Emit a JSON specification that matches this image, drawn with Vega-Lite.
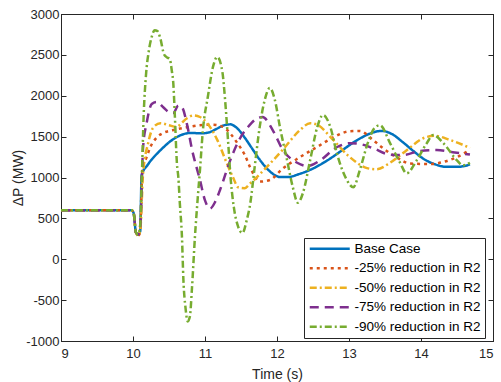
{
  "$schema": "https://vega.github.io/schema/vega-lite/v6.json",
  "width": 432,
  "height": 327,
  "autosize": {"type": "none"},
  "padding": {"left": 61, "top": 14, "right": 8, "bottom": 41},
  "background": "white",
  "config": {
    "font": "Liberation Sans",
    "view": {"stroke": "#262626", "strokeWidth": 1},
    "axis": {
      "grid": false,
      "domainColor": "#262626",
      "tickColor": "#262626",
      "labelColor": "#262626",
      "titleColor": "#262626",
      "labelFont": "Liberation Sans",
      "titleFont": "Liberation Sans",
      "labelFontSize": 13,
      "titleFontSize": 14,
      "titleFontWeight": "normal",
      "tickSize": -5,
      "labelPadding": 8
    },
    "legend": {
      "title": null,
      "orient": "none",
      "legendX": 243,
      "legendY": 224,
      "symbolType": "M-1,0H7",
      "symbolSize": 100,
      "symbolStrokeWidth": 2.5,
      "labelFont": "Liberation Sans",
      "labelFontSize": 13.5,
      "labelColor": "#000000",
      "labelOffset": 33,
      "rowPadding": 4.5,
      "padding": 4,
      "strokeColor": "#262626",
      "fillColor": "white",
      "labelLimit": 200
    }
  },
  "data": {
    "values": [
      {"s": "Base Case", "t": 9, "v": 600},
      {"s": "Base Case", "t": 9.98, "v": 600},
      {"s": "Base Case", "t": 10.01, "v": 560},
      {"s": "Base Case", "t": 10.04, "v": 330},
      {"s": "Base Case", "t": 10.07, "v": 300},
      {"s": "Base Case", "t": 10.1, "v": 340},
      {"s": "Base Case", "t": 10.12, "v": 1030},
      {"s": "Base Case", "t": 10.2, "v": 1150},
      {"s": "Base Case", "t": 10.3, "v": 1260},
      {"s": "Base Case", "t": 10.4, "v": 1350},
      {"s": "Base Case", "t": 10.5, "v": 1430},
      {"s": "Base Case", "t": 10.6, "v": 1490},
      {"s": "Base Case", "t": 10.7, "v": 1530},
      {"s": "Base Case", "t": 10.8, "v": 1545},
      {"s": "Base Case", "t": 10.95, "v": 1540},
      {"s": "Base Case", "t": 11.05, "v": 1550},
      {"s": "Base Case", "t": 11.15, "v": 1590},
      {"s": "Base Case", "t": 11.25, "v": 1635},
      {"s": "Base Case", "t": 11.35, "v": 1650},
      {"s": "Base Case", "t": 11.45, "v": 1600},
      {"s": "Base Case", "t": 11.55, "v": 1490},
      {"s": "Base Case", "t": 11.65, "v": 1360},
      {"s": "Base Case", "t": 11.75, "v": 1230},
      {"s": "Base Case", "t": 11.85, "v": 1120},
      {"s": "Base Case", "t": 11.95, "v": 1040},
      {"s": "Base Case", "t": 12.05, "v": 1005},
      {"s": "Base Case", "t": 12.15, "v": 1005},
      {"s": "Base Case", "t": 12.3, "v": 1040},
      {"s": "Base Case", "t": 12.5, "v": 1110},
      {"s": "Base Case", "t": 12.7, "v": 1210},
      {"s": "Base Case", "t": 12.9, "v": 1330},
      {"s": "Base Case", "t": 13.1, "v": 1450},
      {"s": "Base Case", "t": 13.3, "v": 1540},
      {"s": "Base Case", "t": 13.45, "v": 1570},
      {"s": "Base Case", "t": 13.6, "v": 1530},
      {"s": "Base Case", "t": 13.75, "v": 1430},
      {"s": "Base Case", "t": 13.9, "v": 1320},
      {"s": "Base Case", "t": 14.05, "v": 1220},
      {"s": "Base Case", "t": 14.2, "v": 1160},
      {"s": "Base Case", "t": 14.35, "v": 1130},
      {"s": "Base Case", "t": 14.5, "v": 1130},
      {"s": "Base Case", "t": 14.6, "v": 1140},
      {"s": "Base Case", "t": 14.68, "v": 1160},

      {"s": "-25% reduction in R2", "t": 9, "v": 600},
      {"s": "-25% reduction in R2", "t": 9.98, "v": 600},
      {"s": "-25% reduction in R2", "t": 10.01, "v": 560},
      {"s": "-25% reduction in R2", "t": 10.04, "v": 330},
      {"s": "-25% reduction in R2", "t": 10.07, "v": 290},
      {"s": "-25% reduction in R2", "t": 10.1, "v": 330},
      {"s": "-25% reduction in R2", "t": 10.13, "v": 1100},
      {"s": "-25% reduction in R2", "t": 10.19, "v": 1250},
      {"s": "-25% reduction in R2", "t": 10.24, "v": 1370},
      {"s": "-25% reduction in R2", "t": 10.33, "v": 1490},
      {"s": "-25% reduction in R2", "t": 10.42, "v": 1545},
      {"s": "-25% reduction in R2", "t": 10.56, "v": 1580},
      {"s": "-25% reduction in R2", "t": 10.75, "v": 1615},
      {"s": "-25% reduction in R2", "t": 10.93, "v": 1640},
      {"s": "-25% reduction in R2", "t": 11.11, "v": 1645},
      {"s": "-25% reduction in R2", "t": 11.25, "v": 1620},
      {"s": "-25% reduction in R2", "t": 11.35, "v": 1540},
      {"s": "-25% reduction in R2", "t": 11.45, "v": 1420},
      {"s": "-25% reduction in R2", "t": 11.55, "v": 1280},
      {"s": "-25% reduction in R2", "t": 11.65, "v": 1080},
      {"s": "-25% reduction in R2", "t": 11.76, "v": 950},
      {"s": "-25% reduction in R2", "t": 11.9, "v": 970},
      {"s": "-25% reduction in R2", "t": 12.08, "v": 1110},
      {"s": "-25% reduction in R2", "t": 12.32, "v": 1250},
      {"s": "-25% reduction in R2", "t": 12.56, "v": 1375},
      {"s": "-25% reduction in R2", "t": 12.78, "v": 1490},
      {"s": "-25% reduction in R2", "t": 13.0, "v": 1565},
      {"s": "-25% reduction in R2", "t": 13.15, "v": 1570},
      {"s": "-25% reduction in R2", "t": 13.33, "v": 1460},
      {"s": "-25% reduction in R2", "t": 13.47, "v": 1360},
      {"s": "-25% reduction in R2", "t": 13.67, "v": 1240},
      {"s": "-25% reduction in R2", "t": 13.85, "v": 1170},
      {"s": "-25% reduction in R2", "t": 14.12, "v": 1165},
      {"s": "-25% reduction in R2", "t": 14.31, "v": 1190},
      {"s": "-25% reduction in R2", "t": 14.5, "v": 1250},
      {"s": "-25% reduction in R2", "t": 14.68, "v": 1340},

      {"s": "-50% reduction in R2", "t": 9, "v": 600},
      {"s": "-50% reduction in R2", "t": 9.98, "v": 600},
      {"s": "-50% reduction in R2", "t": 10.01, "v": 560},
      {"s": "-50% reduction in R2", "t": 10.04, "v": 330},
      {"s": "-50% reduction in R2", "t": 10.07, "v": 290},
      {"s": "-50% reduction in R2", "t": 10.1, "v": 350},
      {"s": "-50% reduction in R2", "t": 10.14, "v": 1050},
      {"s": "-50% reduction in R2", "t": 10.21, "v": 1420},
      {"s": "-50% reduction in R2", "t": 10.28, "v": 1610},
      {"s": "-50% reduction in R2", "t": 10.38, "v": 1665},
      {"s": "-50% reduction in R2", "t": 10.5, "v": 1640},
      {"s": "-50% reduction in R2", "t": 10.6, "v": 1620},
      {"s": "-50% reduction in R2", "t": 10.75, "v": 1725},
      {"s": "-50% reduction in R2", "t": 10.84, "v": 1760},
      {"s": "-50% reduction in R2", "t": 10.93, "v": 1740},
      {"s": "-50% reduction in R2", "t": 11.03, "v": 1665},
      {"s": "-50% reduction in R2", "t": 11.17, "v": 1460},
      {"s": "-50% reduction in R2", "t": 11.3, "v": 1180},
      {"s": "-50% reduction in R2", "t": 11.39, "v": 1000},
      {"s": "-50% reduction in R2", "t": 11.46, "v": 880},
      {"s": "-50% reduction in R2", "t": 11.55, "v": 870},
      {"s": "-50% reduction in R2", "t": 11.63, "v": 930},
      {"s": "-50% reduction in R2", "t": 11.86, "v": 1130},
      {"s": "-50% reduction in R2", "t": 12.08, "v": 1340},
      {"s": "-50% reduction in R2", "t": 12.32, "v": 1580},
      {"s": "-50% reduction in R2", "t": 12.46, "v": 1665},
      {"s": "-50% reduction in R2", "t": 12.56, "v": 1645},
      {"s": "-50% reduction in R2", "t": 12.78, "v": 1460},
      {"s": "-50% reduction in R2", "t": 13.01, "v": 1250},
      {"s": "-50% reduction in R2", "t": 13.25, "v": 1115},
      {"s": "-50% reduction in R2", "t": 13.38, "v": 1100},
      {"s": "-50% reduction in R2", "t": 13.57, "v": 1180},
      {"s": "-50% reduction in R2", "t": 13.81, "v": 1340},
      {"s": "-50% reduction in R2", "t": 14.03, "v": 1480},
      {"s": "-50% reduction in R2", "t": 14.19, "v": 1510},
      {"s": "-50% reduction in R2", "t": 14.4, "v": 1460},
      {"s": "-50% reduction in R2", "t": 14.58, "v": 1400},
      {"s": "-50% reduction in R2", "t": 14.68, "v": 1360},

      {"s": "-75% reduction in R2", "t": 9, "v": 600},
      {"s": "-75% reduction in R2", "t": 9.98, "v": 600},
      {"s": "-75% reduction in R2", "t": 10.01, "v": 560},
      {"s": "-75% reduction in R2", "t": 10.04, "v": 330},
      {"s": "-75% reduction in R2", "t": 10.07, "v": 300},
      {"s": "-75% reduction in R2", "t": 10.1, "v": 400},
      {"s": "-75% reduction in R2", "t": 10.14, "v": 1370},
      {"s": "-75% reduction in R2", "t": 10.19, "v": 1670},
      {"s": "-75% reduction in R2", "t": 10.26, "v": 1900},
      {"s": "-75% reduction in R2", "t": 10.33, "v": 1925},
      {"s": "-75% reduction in R2", "t": 10.42, "v": 1860},
      {"s": "-75% reduction in R2", "t": 10.5, "v": 1800},
      {"s": "-75% reduction in R2", "t": 10.56, "v": 1790},
      {"s": "-75% reduction in R2", "t": 10.63, "v": 1880},
      {"s": "-75% reduction in R2", "t": 10.68, "v": 1860},
      {"s": "-75% reduction in R2", "t": 10.75, "v": 1650},
      {"s": "-75% reduction in R2", "t": 10.82, "v": 1340},
      {"s": "-75% reduction in R2", "t": 10.93, "v": 970},
      {"s": "-75% reduction in R2", "t": 11.0, "v": 720},
      {"s": "-75% reduction in R2", "t": 11.07, "v": 620},
      {"s": "-75% reduction in R2", "t": 11.14, "v": 700},
      {"s": "-75% reduction in R2", "t": 11.21, "v": 850},
      {"s": "-75% reduction in R2", "t": 11.35, "v": 1210},
      {"s": "-75% reduction in R2", "t": 11.5, "v": 1500},
      {"s": "-75% reduction in R2", "t": 11.6, "v": 1620},
      {"s": "-75% reduction in R2", "t": 11.7, "v": 1710},
      {"s": "-75% reduction in R2", "t": 11.8, "v": 1740},
      {"s": "-75% reduction in R2", "t": 11.94, "v": 1580},
      {"s": "-75% reduction in R2", "t": 12.08, "v": 1340},
      {"s": "-75% reduction in R2", "t": 12.28, "v": 1180},
      {"s": "-75% reduction in R2", "t": 12.42, "v": 1140},
      {"s": "-75% reduction in R2", "t": 12.6, "v": 1210},
      {"s": "-75% reduction in R2", "t": 12.83, "v": 1370},
      {"s": "-75% reduction in R2", "t": 13.01, "v": 1420},
      {"s": "-75% reduction in R2", "t": 13.15, "v": 1410},
      {"s": "-75% reduction in R2", "t": 13.33, "v": 1360},
      {"s": "-75% reduction in R2", "t": 13.57, "v": 1280},
      {"s": "-75% reduction in R2", "t": 13.75, "v": 1275},
      {"s": "-75% reduction in R2", "t": 13.99, "v": 1325},
      {"s": "-75% reduction in R2", "t": 14.22, "v": 1335},
      {"s": "-75% reduction in R2", "t": 14.44, "v": 1310},
      {"s": "-75% reduction in R2", "t": 14.68, "v": 1280},

      {"s": "-90% reduction in R2", "t": 9, "v": 600},
      {"s": "-90% reduction in R2", "t": 9.98, "v": 600},
      {"s": "-90% reduction in R2", "t": 10.01, "v": 560},
      {"s": "-90% reduction in R2", "t": 10.04, "v": 330},
      {"s": "-90% reduction in R2", "t": 10.07, "v": 300},
      {"s": "-90% reduction in R2", "t": 10.1, "v": 420},
      {"s": "-90% reduction in R2", "t": 10.12, "v": 930},
      {"s": "-90% reduction in R2", "t": 10.15, "v": 1800},
      {"s": "-90% reduction in R2", "t": 10.18, "v": 2250},
      {"s": "-90% reduction in R2", "t": 10.22, "v": 2550},
      {"s": "-90% reduction in R2", "t": 10.26, "v": 2720},
      {"s": "-90% reduction in R2", "t": 10.3, "v": 2800},
      {"s": "-90% reduction in R2", "t": 10.34, "v": 2790},
      {"s": "-90% reduction in R2", "t": 10.38, "v": 2700},
      {"s": "-90% reduction in R2", "t": 10.43, "v": 2510},
      {"s": "-90% reduction in R2", "t": 10.47, "v": 2470},
      {"s": "-90% reduction in R2", "t": 10.51, "v": 2450},
      {"s": "-90% reduction in R2", "t": 10.54, "v": 2300},
      {"s": "-90% reduction in R2", "t": 10.56, "v": 2150},
      {"s": "-90% reduction in R2", "t": 10.58, "v": 1780},
      {"s": "-90% reduction in R2", "t": 10.61, "v": 1170},
      {"s": "-90% reduction in R2", "t": 10.63, "v": 1000},
      {"s": "-90% reduction in R2", "t": 10.65, "v": 690},
      {"s": "-90% reduction in R2", "t": 10.68, "v": 270},
      {"s": "-90% reduction in R2", "t": 10.7, "v": -250},
      {"s": "-90% reduction in R2", "t": 10.73, "v": -600},
      {"s": "-90% reduction in R2", "t": 10.76, "v": -760},
      {"s": "-90% reduction in R2", "t": 10.79, "v": -700},
      {"s": "-90% reduction in R2", "t": 10.82, "v": -340},
      {"s": "-90% reduction in R2", "t": 10.86, "v": 270},
      {"s": "-90% reduction in R2", "t": 10.9, "v": 760},
      {"s": "-90% reduction in R2", "t": 10.93, "v": 1090},
      {"s": "-90% reduction in R2", "t": 10.97, "v": 1570},
      {"s": "-90% reduction in R2", "t": 11.04, "v": 1990},
      {"s": "-90% reduction in R2", "t": 11.11, "v": 2350},
      {"s": "-90% reduction in R2", "t": 11.17, "v": 2475},
      {"s": "-90% reduction in R2", "t": 11.24, "v": 2300},
      {"s": "-90% reduction in R2", "t": 11.28, "v": 1940},
      {"s": "-90% reduction in R2", "t": 11.32, "v": 1450},
      {"s": "-90% reduction in R2", "t": 11.36, "v": 950},
      {"s": "-90% reduction in R2", "t": 11.4, "v": 640},
      {"s": "-90% reduction in R2", "t": 11.46, "v": 400},
      {"s": "-90% reduction in R2", "t": 11.52, "v": 320},
      {"s": "-90% reduction in R2", "t": 11.58, "v": 480},
      {"s": "-90% reduction in R2", "t": 11.63, "v": 690},
      {"s": "-90% reduction in R2", "t": 11.69, "v": 1130},
      {"s": "-90% reduction in R2", "t": 11.76, "v": 1620},
      {"s": "-90% reduction in R2", "t": 11.83, "v": 1950},
      {"s": "-90% reduction in R2", "t": 11.9, "v": 2095},
      {"s": "-90% reduction in R2", "t": 11.97, "v": 1950},
      {"s": "-90% reduction in R2", "t": 12.04, "v": 1620},
      {"s": "-90% reduction in R2", "t": 12.14, "v": 1210},
      {"s": "-90% reduction in R2", "t": 12.22, "v": 880},
      {"s": "-90% reduction in R2", "t": 12.29, "v": 690},
      {"s": "-90% reduction in R2", "t": 12.36, "v": 810},
      {"s": "-90% reduction in R2", "t": 12.46, "v": 1210},
      {"s": "-90% reduction in R2", "t": 12.56, "v": 1620},
      {"s": "-90% reduction in R2", "t": 12.64, "v": 1765},
      {"s": "-90% reduction in R2", "t": 12.74, "v": 1620},
      {"s": "-90% reduction in R2", "t": 12.83, "v": 1300},
      {"s": "-90% reduction in R2", "t": 12.97, "v": 970},
      {"s": "-90% reduction in R2", "t": 13.06, "v": 880},
      {"s": "-90% reduction in R2", "t": 13.15, "v": 1090},
      {"s": "-90% reduction in R2", "t": 13.26, "v": 1420},
      {"s": "-90% reduction in R2", "t": 13.35, "v": 1600},
      {"s": "-90% reduction in R2", "t": 13.43, "v": 1640},
      {"s": "-90% reduction in R2", "t": 13.57, "v": 1420},
      {"s": "-90% reduction in R2", "t": 13.71, "v": 1180},
      {"s": "-90% reduction in R2", "t": 13.8, "v": 1050},
      {"s": "-90% reduction in R2", "t": 13.94, "v": 1210},
      {"s": "-90% reduction in R2", "t": 14.08, "v": 1420},
      {"s": "-90% reduction in R2", "t": 14.17, "v": 1520},
      {"s": "-90% reduction in R2", "t": 14.31, "v": 1420},
      {"s": "-90% reduction in R2", "t": 14.5, "v": 1210},
      {"s": "-90% reduction in R2", "t": 14.58, "v": 1150},
      {"s": "-90% reduction in R2", "t": 14.68, "v": 1180}
    ]
  },
  "layer": [
    {
      "mark": {"type": "line", "strokeWidth": 2.5, "interpolate": "monotone", "clip": true},
      "encoding": {
        "x": {
          "field": "t", "type": "quantitative",
          "scale": {"domain": [9, 15], "nice": false, "zero": false},
          "axis": {"title": "Time (s)", "values": [9, 10, 11, 12, 13, 14, 15], "format": "d", "labelPadding": 11, "titlePadding": 7}
        },
        "y": {
          "field": "v", "type": "quantitative",
          "scale": {"domain": [-1000, 3000], "nice": false},
          "axis": {"title": "ΔP (MW)", "values": [-1000, -500, 0, 500, 1000, 1500, 2000, 2500, 3000], "labelExpr": "datum.value + ''", "labelPadding": 7, "titlePadding": 0}
        },
        "color": {
          "field": "s", "type": "nominal",
          "scale": {
            "domain": ["Base Case", "-25% reduction in R2", "-50% reduction in R2", "-75% reduction in R2", "-90% reduction in R2"],
            "range": ["#0072BD", "#D95319", "#EDB120", "#7E2F8E", "#77AC30"]
          }
        },
        "strokeDash": {
          "field": "s", "type": "nominal",
          "scale": {
            "domain": ["Base Case", "-25% reduction in R2", "-50% reduction in R2", "-75% reduction in R2", "-90% reduction in R2"],
            "range": [[1, 0], [3, 4], [7, 3, 2, 3], [9, 6], [7, 3, 2, 3]]
          }
        }
      }
    },
    {
      "mark": {"type": "line", "opacity": 0},
      "encoding": {
        "x": {"field": "t", "type": "quantitative", "axis": {"orient": "top", "labels": false, "title": null, "values": [9, 10, 11, 12, 13, 14, 15]}},
        "y": {"field": "v", "type": "quantitative", "axis": {"orient": "right", "labels": false, "title": null, "values": [-1000, -500, 0, 500, 1000, 1500, 2000, 2500, 3000]}}
      }
    }
  ],
  "resolve": {"axis": {"x": "independent", "y": "independent"}}
}
